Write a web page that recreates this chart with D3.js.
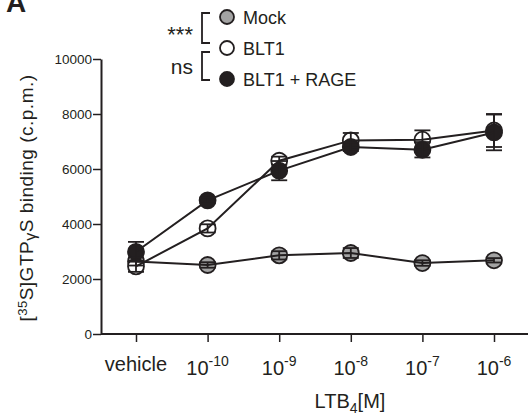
<!DOCTYPE html>
<html>
<head>
<meta charset="utf-8">
<script src="https://cdn.jsdelivr.net/npm/d3@7"></script>
<style>
  body { margin: 0; background: #fff; }
  svg { display: block; font-family: "Liberation Sans", Arial, sans-serif; }
</style>
</head>
<body>
<svg id="chart" width="528" height="416"></svg>
<script>
// data
var doses = ['vehicle', '-10', '-9', '-8', '-7', '-6'];
var mock = [2640, 2510, 2860, 2945, 2580, 2680];
var mockErr = [150, 100, 150, 180, 100, 80];
var blt1 = [2460, 3840, 6300, 7040, 7065, 7400];
var blt1Err = [200, 150, 150, 270, 340, 600];
var rage = [2990, 4860, 5940, 6800, 6700, 7330];
var rageErr = [360, 100, 350, 150, 280, 650];
var yTicks = [0, 2000, 4000, 6000, 8000, 10000];

var ink = '#231f20';

var svg = d3.select('#chart');

var x = d3.scalePoint()
    .domain(doses)
    .range([136, 494]);

var y = d3.scaleLinear()
    .domain([0, 10000])
    .range([334, 59]);

// y axis
var yAxis = svg.append('g')
    .attr('transform', 'translate(101,0)')
    .call(d3.axisLeft(y).tickValues(yTicks).tickFormat(d3.format('d'))
        .tickSize(8).tickPadding(1).tickSizeOuter(0));
yAxis.select('.domain').attr('stroke', ink).attr('stroke-width', 2);
yAxis.selectAll('.tick line').attr('stroke', ink).attr('stroke-width', 1.5);
yAxis.selectAll('.tick text')
    .attr('font-size', 13.5)
    .attr('fill', ink)
    .attr('font-family', '"Liberation Sans", Arial, sans-serif');

// x axis
var xAxis = svg.append('g')
    .attr('transform', 'translate(0,334)');
xAxis.append('line')
    .attr('x1', 101).attr('x2', 528)
    .attr('stroke', ink).attr('stroke-width', 2);
xAxis.call(d3.axisBottom(x).tickSize(8).tickFormat(''));
xAxis.select('.domain').remove();
xAxis.selectAll('.tick line').attr('stroke', ink).attr('stroke-width', 1.5);

var xLabels = svg.append('g');
doses.forEach(function(d) {
    var t = xLabels.append('text')
        .attr('x', x(d))
        .attr('y', d === 'vehicle' ? 371 : 375)
        .attr('text-anchor', 'middle')
        .attr('font-size', 20)
        .attr('fill', ink);
    if (d === 'vehicle') {
        t.text('vehicle');
    } else {
        t.append('tspan').text('10');
        t.append('tspan').attr('dy', -9).attr('font-size', 14).text(d);
    }
});

// axis titles
var xt = svg.append('text')
    .attr('x', 350).attr('y', 408)
    .attr('text-anchor', 'middle')
    .attr('font-size', 20)
    .attr('fill', ink);
xt.append('tspan').text('LTB');
xt.append('tspan').attr('dy', 5).attr('font-size', 14).text('4');
xt.append('tspan').attr('dy', -5).text('[M]');

var yt = svg.append('text')
    .attr('transform', 'translate(33,198) rotate(-90)')
    .attr('text-anchor', 'middle')
    .attr('font-size', 19)
    .attr('letter-spacing', 0.5)
    .attr('fill', ink);
yt.append('tspan').text('[');
yt.append('tspan').attr('dy', -6).attr('font-size', 13).text('35');
yt.append('tspan').attr('dy', 6).text('S]GTP');
yt.append('tspan').attr('dy', 3).attr('font-size', 16).text('γ');
yt.append('tspan').attr('dy', -3).text('S binding (c.p.m.)');

// panel letter
svg.append('text')
    .attr('x', 6).attr('y', 12)
    .attr('font-size', 28)
    .attr('font-weight', 'bold')
    .attr('fill', ink)
    .text('A');

// series
var series = [
    { name: 'Mock', vals: mock, err: mockErr, fill: '#a3a3a3' },
    { name: 'BLT1', vals: blt1, err: blt1Err, fill: '#ffffff' },
    { name: 'BLT1 + RAGE', vals: rage, err: rageErr, fill: ink }
];

var plot = svg.append('g');

series.forEach(function(s) {
    plot.selectAll(null)
        .data(s.vals)
        .enter()
        .append('circle')
        .attr('cx', function(d, i) { return x(doses[i]); })
        .attr('cy', function(d) { return y(d); })
        .attr('r', 8)
        .attr('fill', s.fill)
        .attr('stroke', ink)
        .attr('stroke-width', 1.8);
});

var line = d3.line()
    .x(function(d, i) { return x(doses[i]); })
    .y(function(d) { return y(d); });

series.forEach(function(s) {
    plot.append('path')
        .attr('d', line(s.vals))
        .attr('fill', 'none')
        .attr('stroke', ink)
        .attr('stroke-width', 2);

    var eb = plot.selectAll(null)
        .data(s.vals)
        .enter()
        .append('g')
        .attr('stroke', ink)
        .attr('stroke-width', 1.8);
    eb.append('line')
        .attr('x1', function(d, i) { return x(doses[i]); })
        .attr('x2', function(d, i) { return x(doses[i]); })
        .attr('y1', function(d, i) { return y(d - s.err[i]); })
        .attr('y2', function(d, i) { return y(d + s.err[i]); });
    [1, -1].forEach(function(sign) {
        eb.append('line')
            .attr('x1', function(d, i) { return x(doses[i]) - 8; })
            .attr('x2', function(d, i) { return x(doses[i]) + 8; })
            .attr('y1', function(d, i) { return y(d + sign * s.err[i]); })
            .attr('y2', function(d, i) { return y(d + sign * s.err[i]); });
    });
});

// legend
var legY = [17, 48, 79];
var legend = svg.append('g');
series.forEach(function(s, i) {
    legend.append('circle')
        .attr('cx', 227).attr('cy', legY[i])
        .attr('r', 7)
        .attr('fill', s.fill)
        .attr('stroke', ink)
        .attr('stroke-width', 1.8);
    legend.append('text')
        .attr('x', 243).attr('y', legY[i] + 6.5)
        .attr('font-size', 18)
        .attr('fill', ink)
        .text(s.name);
});

// significance brackets
var brackets = [
    { top: 13, bottom: 43, label: '***', size: 22, ly: 42 },
    { top: 52, bottom: 80, label: 'ns', size: 21, ly: 74 }
];
brackets.forEach(function(b) {
    legend.append('path')
        .attr('d', 'M210,' + b.top + 'H202V' + b.bottom + 'H210')
        .attr('fill', 'none')
        .attr('stroke', ink)
        .attr('stroke-width', 1.8);
    legend.append('text')
        .attr('x', 193).attr('y', b.ly)
        .attr('text-anchor', 'end')
        .attr('font-size', b.size)
        .attr('fill', ink)
        .text(b.label);
});
</script>
</body>
</html>
